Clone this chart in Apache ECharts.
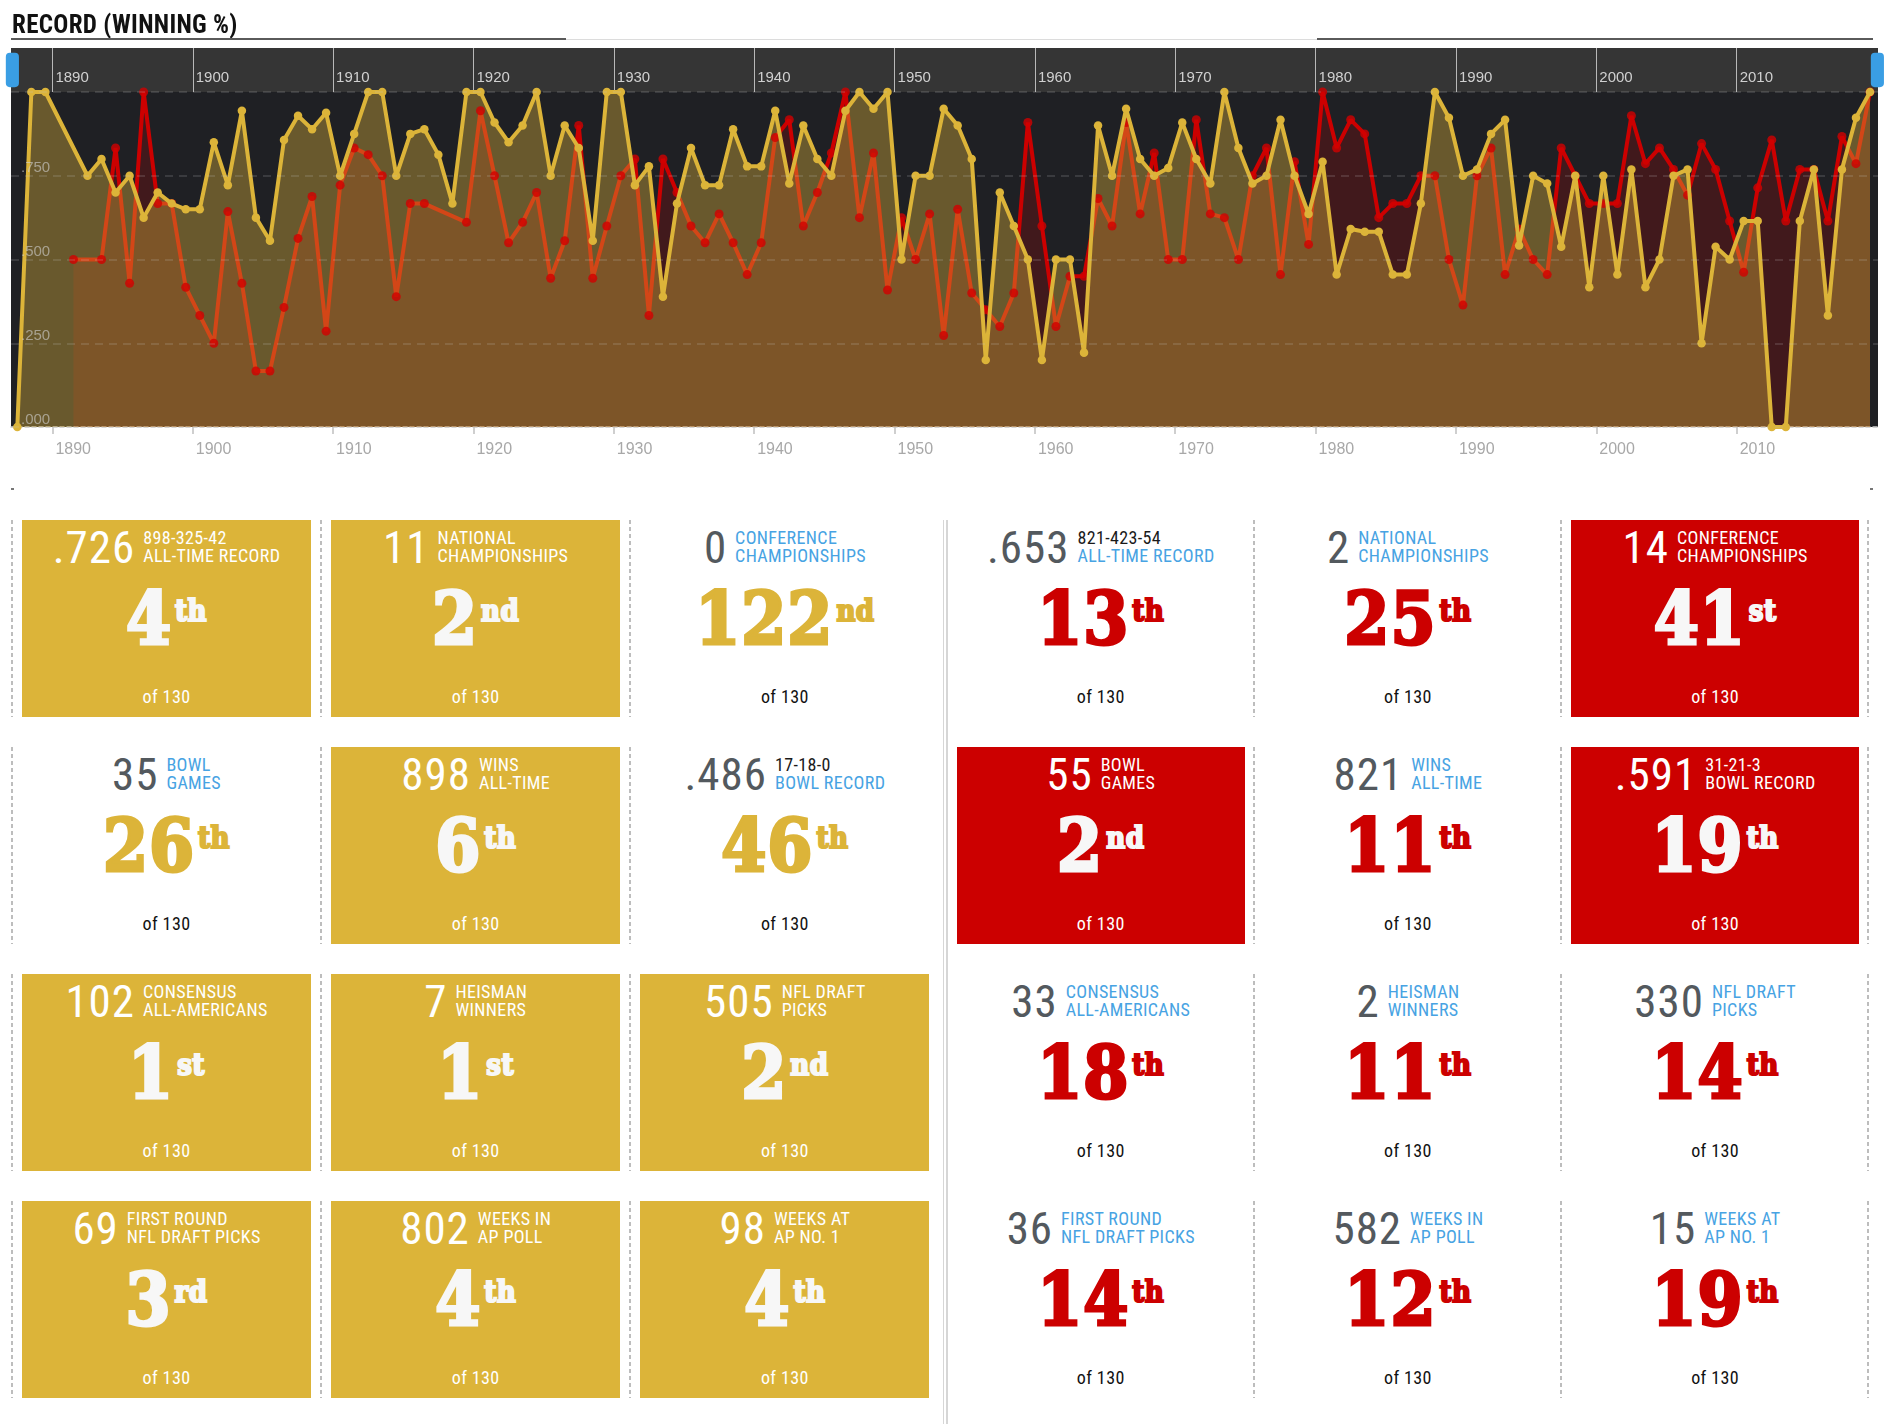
<!DOCTYPE html>
<html>
<head>
<meta charset="utf-8">
<script src="https://cdn.jsdelivr.net/npm/echarts@6/dist/echarts.min.js"></script>
<style>
html,body{margin:0;padding:0;background:#fff;}
body{width:1901px;height:1424px;position:relative;overflow:hidden;font-family:"Roboto Condensed","DejaVu Sans Condensed",sans-serif;}
#chart{position:absolute;left:0;top:0;width:1901px;height:505px;}
#title{position:absolute;left:12px;top:12.3px;font-weight:bold;font-size:25px;line-height:25px;letter-spacing:0.3px;color:#111;white-space:nowrap;z-index:5;}
.rule{position:absolute;z-index:5;}
.card{position:absolute;height:197px;overflow:visible;}
.hdr{position:absolute;left:0;right:0;top:8.5px;display:flex;justify-content:center;align-items:flex-end;}
.num{font-size:45px;line-height:36px;letter-spacing:1px;white-space:nowrap;margin-right:8px;}
.lbl{font-size:18px;line-height:18.7px;letter-spacing:0.35px;white-space:nowrap;text-align:left;}
.ord{position:absolute;left:0;right:0;top:63.4px;text-align:center;font-family:"DejaVu Serif Condensed","DejaVu Serif",serif;font-weight:bold;font-size:72px;line-height:72px;letter-spacing:1px;white-space:nowrap;-webkit-text-stroke:3px currentColor;}
.suf{font-size:29px;position:relative;top:-23px;margin-left:3px;letter-spacing:0.5px;-webkit-text-stroke:2px currentColor;}
.of{position:absolute;left:0;right:0;top:167px;text-align:center;font-size:18px;line-height:20px;letter-spacing:0.4px;}
.sep{position:absolute;width:2px;background:repeating-linear-gradient(to bottom,#bdbdbd 0 4px,transparent 4px 7px);}
</style>
</head>
<body>
<div id="chart"></div>
<div id="title">RECORD (WINNING %)</div>
<div class="rule" style="left:11px;top:38px;width:555px;height:2px;background:#5a5a5a;"></div>
<div class="rule" style="left:566px;top:38.5px;width:751px;height:1px;background:#dcdcdc;"></div>
<div class="rule" style="left:1317px;top:38px;width:556px;height:2px;background:#5a5a5a;"></div>
<div class="rule" style="left:11px;top:488px;width:3px;height:1.5px;background:#777;"></div>
<div class="rule" style="left:1870px;top:488px;width:3px;height:1.5px;background:#777;"></div>
<div id="cards"></div>
<script>
// ---------- chart data ----------
const seasons = [
  1887, 1888, 1889,
  1890, 1891, 1892, 1893, 1894, 1895, 1896, 1897, 1898, 1899,
  1900, 1901, 1902, 1903, 1904, 1905, 1906, 1907, 1908, 1909,
  1910, 1911, 1912, 1913, 1914, 1915, 1916, 1917, 1918, 1919,
  1920, 1921, 1922, 1923, 1924, 1925, 1926, 1927, 1928, 1929,
  1930, 1931, 1932, 1933, 1934, 1935, 1936, 1937, 1938, 1939,
  1940, 1941, 1942, 1943, 1944, 1945, 1946, 1947, 1948, 1949,
  1950, 1951, 1952, 1953, 1954, 1955, 1956, 1957, 1958, 1959,
  1960, 1961, 1962, 1963, 1964, 1965, 1966, 1967, 1968, 1969,
  1970, 1971, 1972, 1973, 1974, 1975, 1976, 1977, 1978, 1979,
  1980, 1981, 1982, 1983, 1984, 1985, 1986, 1987, 1988, 1989,
  1990, 1991, 1992, 1993, 1994, 1995, 1996, 1997, 1998, 1999,
  2000, 2001, 2002, 2003, 2004, 2005, 2006, 2007, 2008, 2009,
  2010, 2011, 2012, 2013, 2014, 2015, 2016, 2017, 2018, 2019
];
// gold team winning percentage per season (null = no season)
const goldPct = [
  0, 1, 1,
  null, null, .750, .800, .700, .750, .625, .700, .667, .650,
  .650, .850, .722, .944, .625, .556, .857, .929, .889, .938,
  .750, .875, 1, 1, .750, .875, .889, .813, .667, 1,
  1, .909, .850, .900, 1, .750, .900, .833, .556, 1,
  1, .722, .778, .389, .667, .833, .722, .722, .889, .778,
  .778, .944, .727, .900, .800, .750, .944, 1, .950, 1,
  .500, .750, .750, .950, .900, .800, .200, .700, .600, .500,
  .200, .500, .500, .222, .900, .750, .950, .800, .750, .773,
  .909, .800, .727, 1, .833, .727, .750, .917, .750, .636,
  .792, .455, .591, .583, .583, .455, .455, .667, 1, .923,
  .750, .769, .875, .917, .542, .750, .727, .538, .750, .417,
  .750, .455, .769, .417, .500, .750, .769, .250, .538, .500,
  .615, .615, 0, 0, .615, .769, .333, .769, .923, 1
];
// red team winning percentage per season (null = no season)
const redPct = [
  null, null, null,
  null, .500, null, .500, .833, .429, 1, .667, .667, .417,
  .333, .250, .643, .429, .167, .167, .357, .563, .688, .286,
  .722, .833, .813, .750, .389, .667, .667, null, null, .611,
  .944, .750, .550, .611, .700, .444, .556, .900, .444, .600,
  .750, .800, .333, .800, .700, .600, .550, .636, .550, .455,
  .550, .864, .917, .600, .700, .818, 1, .625, .818, .409,
  .625, .500, .636, .273, .650, .400, .350, .300, .400, .909,
  .600, .300, .450, .450, .682, .600, .909, .636, .818, .500,
  .500, .917, .636, .625, .500, .750, .833, .455, .792, .545,
  1, .833, .917, .875, .625, .667, .667, .750, .750, .500,
  .364, .750, .833, .455, .591, .500, .455, .833, .750, .667,
  .667, .667, .929, .786, .833, .769, .692, .846, .769, .615,
  .462, .714, .857, .615, .769, .769, .615, .867, .786, 1
];
const decadeLabels = [1890, 1900, 1910, 1920, 1930, 1940, 1950, 1960, 1970, 1980, 1990, 2000, 2010];
const pctTicks = [0, 0.25, 0.5, 0.75, 1];

// ---------- card data ----------
const cardValues = [
  '.726', '11', '0', '.653', '2', '14',
  '35', '898', '.486', '55', '821', '.591',
  '102', '7', '505', '33', '2', '330',
  '69', '802', '98', '36', '582', '15'
];
const cardLine1 = [
  '898-325-42', 'NATIONAL', 'CONFERENCE', '821-423-54', 'NATIONAL', 'CONFERENCE',
  'BOWL', 'WINS', '17-18-0', 'BOWL', 'WINS', '31-21-3',
  'CONSENSUS', 'HEISMAN', 'NFL DRAFT', 'CONSENSUS', 'HEISMAN', 'NFL DRAFT',
  'FIRST ROUND', 'WEEKS IN', 'WEEKS AT', 'FIRST ROUND', 'WEEKS IN', 'WEEKS AT'
];
const cardLine2 = [
  'ALL-TIME RECORD', 'CHAMPIONSHIPS', 'CHAMPIONSHIPS', 'ALL-TIME RECORD', 'CHAMPIONSHIPS', 'CHAMPIONSHIPS',
  'GAMES', 'ALL-TIME', 'BOWL RECORD', 'GAMES', 'ALL-TIME', 'BOWL RECORD',
  'ALL-AMERICANS', 'WINNERS', 'PICKS', 'ALL-AMERICANS', 'WINNERS', 'PICKS',
  'NFL DRAFT PICKS', 'AP POLL', 'AP NO. 1', 'NFL DRAFT PICKS', 'AP POLL', 'AP NO. 1'
];
const cardRanks = [
  4, 2, 122, 13, 25, 41,
  26, 6, 46, 2, 11, 19,
  1, 1, 2, 18, 11, 14,
  3, 4, 4, 14, 12, 19
];
const cardFilled = [
  1, 1, 0, 0, 0, 1,
  0, 1, 0, 1, 0, 1,
  1, 1, 1, 0, 0, 0,
  1, 1, 1, 0, 0, 0
];
const rankOutOf = 130;

// ---------- colours ----------
const GOLD = '#dcb439';
const RED = '#cc0000';

// ---------- chart ----------
// a season is drawn at the middle of its year; decade ticks sit at the start of the year
const seasonMid = y => y + 0.5;
const goldData = seasons.map((y, i) => [seasonMid(y), goldPct[i]]);
const redData = seasons.map((y, i) => [seasonMid(y), redPct[i]]);
const redPoints = redData.filter(d => d[1] !== null);
const xMin = 1887.05;
const xMax = 2020.07;
const yearFmt = v => String(Math.round(v));
const pctFmt = v => '.' + String(Math.round(v * 1000)).padStart(3, '0');

const chart = echarts.init(document.getElementById('chart'));
chart.setOption({
  animation: false,
  textStyle: { fontFamily: '"Liberation Sans", Arial, sans-serif' },
  grid: [
    { left: 11, right: 23, top: 48, height: 44, show: true, backgroundColor: '#353535', borderWidth: 0 },
    { left: 11, right: 23, top: 92, height: 335, show: true, backgroundColor: '#1f2024', borderWidth: 0 }
  ],
  xAxis: [
    {
      type: 'value', gridIndex: 0, min: xMin, max: xMax, position: 'bottom',
      axisLine: { show: false },
      axisTick: { show: false, customValues: decadeLabels },
      splitLine: { show: true, lineStyle: { color: '#b8b8b8', width: 1 } },
      axisLabel: { show: true, inside: true, customValues: decadeLabels, formatter: yearFmt,
        align: 'left', padding: [0, 0, 0, 3], margin: 7, color: '#d0d0d0', fontSize: 15 }
    },
    {
      type: 'value', gridIndex: 1, min: xMin, max: xMax, position: 'bottom',
      axisLine: { show: true, lineStyle: { color: '#c8c8c8', width: 1.5, type: [4, 3] } },
      axisTick: { show: true, length: 7, customValues: decadeLabels, lineStyle: { color: '#c0c0c0', width: 1.5 } },
      splitLine: { show: false },
      axisLabel: { customValues: decadeLabels, formatter: yearFmt, align: 'left', padding: [0, 0, 0, 3],
        margin: 15, color: '#a8a8a8', fontSize: 16 }
    }
  ],
  yAxis: [
    { type: 'value', gridIndex: 0, show: false, min: 0, max: 1 },
    {
      type: 'value', gridIndex: 1, min: pctTicks[0], max: pctTicks[pctTicks.length - 1], interval: 0.25, z: 6,
      axisLine: { show: false }, axisTick: { show: false },
      splitLine: { show: true, lineStyle: { color: 'rgba(200,200,200,0.22)', type: [8, 6], width: 1.5 } },
      axisLabel: { inside: true, margin: 10, verticalAlign: 'bottom', showMaxLabel: false,
        color: 'rgba(210,210,210,0.6)', fontSize: 15, formatter: pctFmt }
    }
  ],
  dataZoom: [{
    type: 'slider', xAxisIndex: [0, 1], filterMode: 'none', start: 0, end: 100,
    left: 11, right: 23, top: 48, height: 44, z: 10,
    backgroundColor: 'rgba(0,0,0,0)', borderColor: 'rgba(0,0,0,0)', fillerColor: 'rgba(0,0,0,0)',
    showDataShadow: false, showDetail: false, brushSelect: false, moveHandleSize: 0,
    handleIcon: 'path://M4,0H9A4,4,0,0,1,13,4V30A4,4,0,0,1,9,34H4A4,4,0,0,1,0,30V4A4,4,0,0,1,4,0Z',
    handleSize: '78%',
    handleStyle: { color: '#3a9ee4', borderColor: '#3a9ee4', borderWidth: 0 },
    emphasis: { handleStyle: { color: '#3a9ee4', borderColor: '#3a9ee4' } },
    dataBackground: { lineStyle: { opacity: 0 }, areaStyle: { opacity: 0 } },
    selectedDataBackground: { lineStyle: { opacity: 0 }, areaStyle: { opacity: 0 } }
  }],
  series: [
    { name: 'Red team', type: 'line', xAxisIndex: 1, yAxisIndex: 1, data: redData, connectNulls: true,
      symbol: 'none', showSymbol: false, clip: false, z: 2, silent: true,
      lineStyle: { color: RED, width: 4 }, areaStyle: { color: 'rgba(204,0,0,0.2)', opacity: 1 } },
    { name: 'Gold team area', type: 'line', xAxisIndex: 1, yAxisIndex: 1, data: goldData, connectNulls: true,
      symbol: 'none', showSymbol: false, clip: false, z: 3, silent: true,
      lineStyle: { width: 0, opacity: 0 }, areaStyle: { color: 'rgba(222,180,60,0.39)', opacity: 1 } },
    { name: 'Red team seasons', type: 'scatter', xAxisIndex: 1, yAxisIndex: 1, data: redPoints,
      symbol: 'circle', symbolSize: 9, clip: false, z: 4, silent: true, itemStyle: { color: '#d20000' } },
    { name: 'Gold team', type: 'line', xAxisIndex: 1, yAxisIndex: 1, data: goldData, connectNulls: true,
      symbol: 'circle', symbolSize: 8.5, showSymbol: true, showAllSymbol: true, clip: false, z: 5, silent: true,
      lineStyle: { color: GOLD, width: 4 }, itemStyle: { color: GOLD, borderWidth: 0 } }
  ]
});

// ---------- cards ----------
function ordinalSuffix(n) {
  const m = n % 100;
  if (m >= 11 && m <= 13) return 'th';
  return ({ 1: 'st', 2: 'nd', 3: 'rd' })[n % 10] || 'th';
}
const rowTops = [520, 747, 974, 1201];
const cardsEl = document.getElementById('cards');
let html = '';
for (let i = 0; i < cardValues.length; i++) {
  const r = Math.floor(i / 6), c = i % 6;
  const gold = c < 3;
  const left = gold ? 22 + c * 309.2 : 957 + (c - 3) * 307.2;
  const width = gold ? 289 : 287.5;
  const teamColor = gold ? GOLD : RED;
  const filled = cardFilled[i] === 1;
  const isRecord = /^\d/.test(cardLine1[i]);
  const numColor = filled ? '#fff' : '#53595e';
  const l1Color = filled ? '#fff' : (isRecord ? '#1a1a1a' : '#47a3e3');
  const l2Color = filled ? '#fff' : '#47a3e3';
  const ordColor = filled ? '#f7f7f7' : teamColor;
  const ofColor = filled ? '#fff' : '#111';
  html += `<div class="card" style="left:${left}px;top:${rowTops[r]}px;width:${width}px;${filled ? 'background:' + teamColor + ';' : ''}">
    <div class="hdr"><span class="num" style="color:${numColor}">${cardValues[i]}</span>
      <div class="lbl"><div style="color:${l1Color}">${cardLine1[i]}</div><div style="color:${l2Color}">${cardLine2[i]}</div></div></div>
    <div class="ord" style="color:${ordColor}">${cardRanks[i]}<span class="suf">${ordinalSuffix(cardRanks[i])}</span></div>
    <div class="of" style="color:${ofColor}">of ${rankOutOf}</div>
  </div>`;
}
for (let r = 0; r < 4; r++) {
  for (let k = 0; k < 3; k++) {
    html += `<div class="sep" style="left:${11 + k * 309.2}px;top:${rowTops[r]}px;height:197px"></div>`;
    html += `<div class="sep" style="left:${1252.6 + k * 307.4}px;top:${rowTops[r]}px;height:197px"></div>`;
  }
}
html += `<div class="rule" style="left:942.5px;top:520px;width:1.5px;height:904px;background:#d6d6d6"></div>`;
html += `<div class="rule" style="left:946px;top:520px;width:1.5px;height:904px;background:#d6d6d6"></div>`;
cardsEl.innerHTML = html;
</script>
</body>
</html>
